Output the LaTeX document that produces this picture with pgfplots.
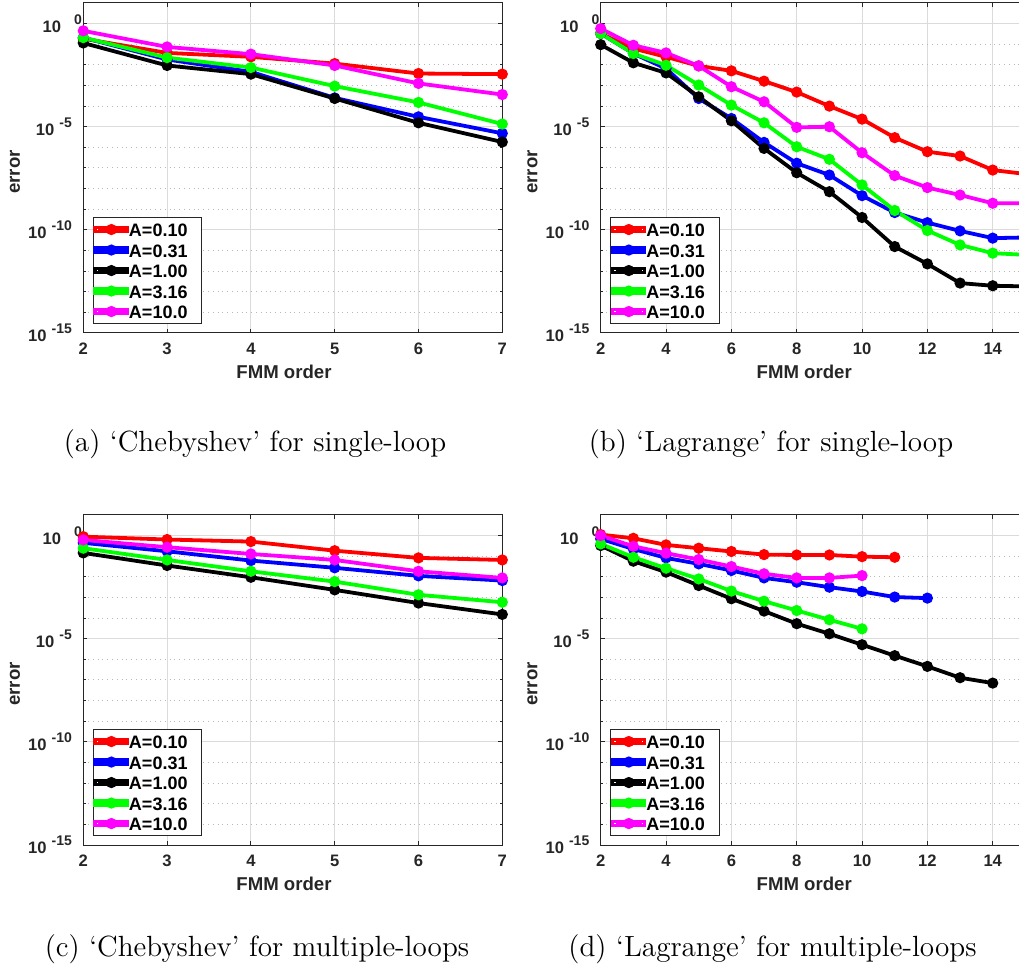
\documentclass[border=0pt]{standalone}
\usepackage{fontspec}
\usepackage{pgfplots}
\pgfplotsset{compat=1.18}
\newfontfamily\arial{Liberation Sans}
\definecolor{axgray}{gray}{0.15}
\definecolor{gridmaj}{gray}{0.86}
\definecolor{gridmin}{gray}{0.72}
\definecolor{cred}{rgb}{1,0,0}
\definecolor{cblue}{rgb}{0,0,1}
\definecolor{cblack}{rgb}{0,0,0}
\definecolor{cgreen}{rgb}{0,1,0}
\definecolor{cmag}{rgb}{1,0,1}
% tick labels 10^k, MATLAB style
\newcommand\tl[1]{10\hspace{2.5pt}\raisebox{4pt}{\fontsize{7}{7}\selectfont #1}}
\newcommand\tlz{10\hspace{6.5pt}\raisebox{4pt}{\fontsize{7}{7}\selectfont 0}\kern-5pt}
% legend text with fixed row height and right padding
\newcommand\lgd[1]{\rule[-2.35pt]{0pt}{11.1pt}\makebox[36.5pt][l]{#1}}

\pgfplotsset{
  legend image code/.code={
    \path (0pt,-1pt) rectangle (16pt,1pt);
    \draw[#1] (1.5pt,0pt) -- (14.8pt,0pt);
    \draw[#1] plot coordinates {(8.15pt,0pt)};
  },
  ser/.style={#1, line width=1.9pt, mark=*, mark size=1.8pt, mark options={solid, fill=#1}},
  panel/.style={
    scale only axis, height=165pt,
    anchor=south west,
    ymin=1e-15, ymax=10, xmin=2,
    ytick={1e-15,1e-10,1e-5,1},
    yticklabels={\tl{-15},\tl{-10},\tl{-5},\tlz},
    minor ytick={1e-14,1e-13,1e-12,1e-11,1e-9,1e-8,1e-7,1e-6,1e-4,1e-3,1e-2,1e-1},
    xmajorgrids, ymajorgrids, yminorgrids,
    major grid style={gridmaj, line width=0.5pt},
    minor grid style={gridmin, dotted, line width=0.5pt},
    axis line style={axgray, line width=0.5pt},
    tick style={axgray, line width=0.5pt},
    tick align=inside, major tick length=2pt, minor tick length=1.2pt,
    tick label style={font=\arial\bfseries\fontsize{8.3}{8.3}\selectfont, text=axgray},
    yticklabel style={inner sep=0pt, xshift=-5.5pt},
    xticklabel style={inner sep=0pt, yshift=-5pt},
    xlabel={FMM order}, ylabel={error},
    label style={font=\arial\bfseries\fontsize{9.3}{9.3}\selectfont, text=axgray},
    xlabel style={at={([xshift=-4.4pt,yshift=-19.25pt]axis description cs:0.5,0)}, anchor=center},
    ylabel style={at={([xshift=-34.15pt,yshift=-2pt]axis description cs:0,0.5)}, anchor=center},
    clip=false,
    legend cell align=left,
    legend style={at={(axis description cs:0,0)}, anchor=south west,
      xshift=4.7pt, yshift=4.65pt, draw=axgray, line width=0.5pt, fill=white,
      inner xsep=0pt, inner ysep=0.7pt, column sep=0pt,
      nodes={inner sep=0pt},
      font=\arial\bfseries\fontsize{9}{9}\selectfont},
  },
}

\begin{document}
\begin{tikzpicture}
% (a) Chebyshev, single-loop
\begin{semilogyaxis}[panel, width=209.5pt, at={(41.65pt,318.5pt)}, xmax=7, xtick={2,3,4,5,6,7},
  xticklabels={2,3,4,5,6,7}]
\addplot[ser=cred] coordinates {(2,1.86e-1)(3,3.80e-2)(4,2.45e-2)(5,1.15e-2)(6,3.80e-3)(7,3.55e-3)};
\addlegendentry{\lgd{A=0.10}}
\addplot[ser=cblue] coordinates {(2,2.09e-1)(3,1.82e-2)(4,4.57e-3)(5,2.51e-4)(6,3.02e-5)(7,4.79e-6)};
\addlegendentry{\lgd{A=0.31}}
\addplot[ser=cblack] coordinates {(2,1.15e-1)(3,9.33e-3)(4,3.55e-3)(5,2.34e-4)(6,1.55e-5)(7,1.82e-6)};
\addlegendentry{\lgd{A=1.00}}
\addplot[ser=cgreen] coordinates {(2,2.09e-1)(3,2.24e-2)(4,7.41e-3)(5,9.33e-4)(6,1.51e-4)(7,1.35e-5)};
\addlegendentry{\lgd{A=3.16}}
\addplot[ser=cmag] coordinates {(2,4.47e-1)(3,7.41e-2)(4,3.31e-2)(5,9.33e-3)(6,1.26e-3)(7,3.63e-4)};
\addlegendentry{\lgd{A=10.0}}
\end{semilogyaxis}

% (b) Lagrange, single-loop
\begin{semilogyaxis}[panel, width=212.35pt, at={(300.35pt,318.5pt)}, xmax=15, xtick={2,4,6,8,10,12,14},
  xticklabels={2,4,6,8,10,12,14}]
\addplot[ser=cred] coordinates {(2,3.31e-1)(3,6.17e-2)(4,2.45e-2)(5,8.91e-3)(6,5.13e-3)(7,1.62e-3)(8,4.79e-4)(9,1.00e-4)(10,2.34e-5)(11,2.95e-6)(12,6.17e-7)(13,3.80e-7)(14,7.94e-8)(15,5.13e-8)};
\addlegendentry{\lgd{A=0.10}}
\addplot[ser=cblue] coordinates {(2,3.31e-1)(3,3.55e-2)(4,6.61e-3)(5,2.34e-4)(6,2.51e-5)(7,1.74e-6)(8,1.70e-7)(9,4.57e-8)(10,4.57e-9)(11,6.92e-10)(12,2.24e-10)(13,8.91e-11)(14,3.98e-11)(15,4.27e-11)};
\addlegendentry{\lgd{A=0.31}}
\addplot[ser=cblack] coordinates {(2,9.55e-2)(3,1.26e-2)(4,4.07e-3)(5,2.82e-4)(6,1.95e-5)(7,8.91e-7)(8,5.89e-8)(9,7.08e-9)(10,3.98e-10)(11,1.55e-11)(12,2.24e-12)(13,2.63e-13)(14,1.95e-13)(15,1.82e-13)};
\addlegendentry{\lgd{A=1.00}}
\addplot[ser=cgreen] coordinates {(2,3.31e-1)(3,3.55e-2)(4,9.55e-3)(5,1.05e-3)(6,1.12e-4)(7,1.55e-5)(8,1.07e-6)(9,2.63e-7)(10,1.51e-8)(11,8.71e-10)(12,9.33e-11)(13,1.86e-11)(14,7.41e-12)(15,6.17e-12)};
\addlegendentry{\lgd{A=3.16}}
\addplot[ser=cmag] coordinates {(2,5.75e-1)(3,8.91e-2)(4,3.80e-2)(5,8.91e-3)(6,8.71e-4)(7,1.62e-4)(8,9.33e-6)(9,1.00e-5)(10,5.50e-7)(11,4.27e-8)(12,1.12e-8)(13,4.90e-9)(14,1.95e-9)(15,1.95e-9)};
\addlegendentry{\lgd{A=10.0}}
\end{semilogyaxis}

% (c) Chebyshev, multiple-loops
\begin{semilogyaxis}[panel, width=209.5pt, at={(41.65pt,62.5pt)}, xmax=7, xtick={2,3,4,5,6,7},
  xticklabels={2,3,4,5,6,7}]
\addplot[ser=cred] coordinates {(2,8.91e-1)(3,6.46e-1)(4,5.13e-1)(5,1.86e-1)(6,8.32e-2)(7,6.61e-2)};
\addlegendentry{\lgd{A=0.10}}
\addplot[ser=cblue] coordinates {(2,4.47e-1)(3,1.74e-1)(4,6.17e-2)(5,2.75e-2)(6,1.12e-2)(7,6.61e-3)};
\addlegendentry{\lgd{A=0.31}}
\addplot[ser=cblack] coordinates {(2,1.45e-1)(3,3.55e-2)(4,9.55e-3)(5,2.34e-3)(6,5.37e-4)(7,1.51e-4)};
\addlegendentry{\lgd{A=1.00}}
\addplot[ser=cgreen] coordinates {(2,2.45e-1)(3,6.61e-2)(4,1.86e-2)(5,5.89e-3)(6,1.35e-3)(7,5.89e-4)};
\addlegendentry{\lgd{A=3.16}}
\addplot[ser=cmag] coordinates {(2,6.17e-1)(3,2.75e-1)(4,1.29e-1)(5,6.61e-2)(6,1.86e-2)(7,8.91e-3)};
\addlegendentry{\lgd{A=10.0}}
\end{semilogyaxis}

% (d) Lagrange, multiple-loops
\begin{semilogyaxis}[panel, width=212.35pt, at={(300.35pt,62.5pt)}, xmax=15, xtick={2,4,6,8,10,12,14},
  xticklabels={2,4,6,8,10,12,14}]
\addplot[ser=cred] coordinates {(2,1.12)(3,7.41e-1)(4,3.55e-1)(5,2.45e-1)(6,1.70e-1)(7,1.20e-1)(8,1.15e-1)(9,1.15e-1)(10,9.55e-2)(11,8.91e-2)};
\addlegendentry{\lgd{A=0.10}}
\addplot[ser=cblue] coordinates {(2,6.92e-1)(3,2.24e-1)(4,8.32e-2)(5,4.27e-2)(6,2.04e-2)(7,8.91e-3)(8,5.50e-3)(9,3.16e-3)(10,1.95e-3)(11,1.05e-3)(12,9.33e-4)};
\addlegendentry{\lgd{A=0.31}}
\addplot[ser=cblack] coordinates {(2,3.31e-1)(3,5.75e-2)(4,1.70e-2)(5,3.80e-3)(6,8.71e-4)(7,2.19e-4)(8,5.37e-5)(9,1.74e-5)(10,5.13e-6)(11,1.51e-6)(12,4.57e-7)(13,1.29e-7)(14,7.08e-8)};
\addlegendentry{\lgd{A=1.00}}
\addplot[ser=cgreen] coordinates {(2,3.98e-1)(3,8.91e-2)(4,2.63e-2)(5,7.94e-3)(6,2.04e-3)(7,6.61e-4)(8,2.34e-4)(9,8.32e-5)(10,3.02e-5)};
\addlegendentry{\lgd{A=3.16}}
\addplot[ser=cmag] coordinates {(2,1.0)(3,3.02e-1)(4,1.41e-1)(5,6.92e-2)(6,3.16e-2)(7,1.41e-2)(8,8.91e-3)(9,8.91e-3)(10,1.15e-2)};
\addlegendentry{\lgd{A=10.0}}
\end{semilogyaxis}

% sub-figure captions
\begin{scope}[every node/.style={font=\fontsize{14.6}{17}\selectfont, inner sep=0pt, anchor=center}]
\node at (127.5pt,263pt) {(a) `Chebyshev' for single-loop};
\node at (385.5pt,263pt) {(b) `Lagrange' for single-loop};
\node at (128.5pt,10.2pt) {(c) `Chebyshev' for multiple-loops};
\node at (386.25pt,10.2pt) {(d) `Lagrange' for multiple-loops};
\end{scope}

\pgfresetboundingbox
\path (0pt,0pt) rectangle (509.5pt,485pt);
\end{tikzpicture}
\end{document}
